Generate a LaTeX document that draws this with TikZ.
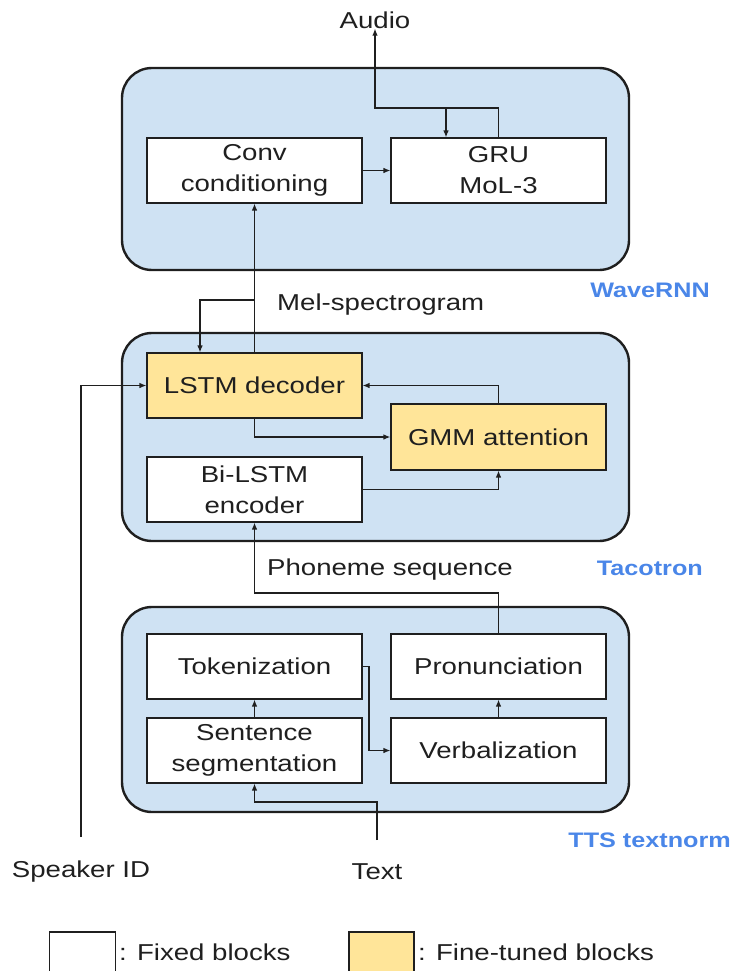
\documentclass[tikz,border=0pt]{standalone}
\usepackage{fontspec}
\setmainfont[FakeStretch=1.2]{Liberation Sans}
\usetikzlibrary{arrows.meta}
\definecolor{boxblue}{HTML}{CFE2F3}
\definecolor{boxyellow}{HTML}{FFE599}
\definecolor{labelblue}{HTML}{4A86E8}
\definecolor{ink}{HTML}{1F1F1F}
\tikzset{
  outerbox/.style={draw=ink, line width=2.4pt, fill=boxblue, rounded corners=30pt},
  blk/.style={draw=ink, line width=1.1pt, fill=white, minimum width=215pt, minimum height=65pt, inner sep=0pt, align=center, font=\fontsize{23}{31}\selectfont, text=ink},
  tuned/.style={blk, fill=boxyellow},
  arr/.style={draw=ink, line width=1.2pt, -{Latex[length=7pt,width=5.5pt]}},
  plain/.style={font=\fontsize{23}{29}\selectfont, text=ink, inner sep=0pt},
  grp/.style={font=\fontsize{21}{25}\selectfont\bfseries, text=labelblue, inner sep=0pt, anchor=east},
}
\begin{document}
\begin{tikzpicture}[x=1pt,y=-1pt]
\useasboundingbox (0,0) rectangle (739,971);
\clip (0,0) rectangle (739,971);
% group boxes
\draw[outerbox] (122,68) rectangle (629,270);
\draw[outerbox] (122,333) rectangle (629,541);
\draw[outerbox] (122,607) rectangle (629,812);
% WaveRNN
\node[blk] (conv) at (254.5,170.5) {Conv\\conditioning};
\node[blk] (gru) at (498.5,170.5) {GRU\\MoL-3};
\node[plain] (audio) at (375,20) {Audio};
\coordinate (j1) at (375,108);
\coordinate (j2) at (446,108);
\draw[arr] (gru.north) |- (j1) -- (audio.south);
\draw[arr] (j2) -- (j2 |- gru.north);
\draw[arr] (conv.east) -- (gru.west);
% Tacotron
\node[tuned] (lstm) at (254.5,385.5) {LSTM decoder};
\node[tuned, minimum height=66pt] (gmm) at (498.5,437) {GMM attention};
\node[blk] (bil) at (254.5,489.5) {Bi-LSTM\\encoder};
\draw[arr] (lstm.north) -- (conv.south);
\coordinate (j3) at (254.5,300);
\draw[arr] (j3) -| ([xshift=-54.5pt]lstm.north);
\node[plain, anchor=west] (mel) at (277,305) {Mel-spectrogram};
\draw[arr] (gmm.north) |- (lstm.east);
\draw[arr] (lstm.south) |- (gmm.west);
\draw[arr] (bil.east) -| (gmm.south);
% textnorm
\node[blk] (tok) at (254.5,666.5) {Tokenization};
\node[blk] (pron) at (498.5,666.5) {Pronunciation};
\node[blk] (sent) at (254.5,750.5) {Sentence\\segmentation};
\node[blk] (verb) at (498.5,750.5) {Verbalization};
\coordinate (j4) at (254.5,593);
\draw[arr] (pron.north) |- (j4) -- (bil.south);
\node[plain, anchor=west] (phon) at (267,570) {Phoneme sequence};
\draw[arr] (sent.north) -- (tok.south);
\draw[arr] (verb.north) -- (pron.south);
\coordinate (j6) at (369,666.5);
\draw[arr] (tok.east) -- (j6) |- (verb.west);
% inputs
\node[plain] (spk) at (81,872) {Speaker ID};
\node[plain] (text) at (377,872) {Text};
\coordinate (spkend) at (81,837);
\draw[arr] (spkend) |- (lstm.west);
\coordinate (textend) at (377,840);
\coordinate (j5) at (254.5,802);
\draw[arr] (textend) |- (j5) -- (sent.south);
% group labels
\node[grp] (lw) at (710,290) {WaveRNN};
\node[grp] (lt) at (703,568) {Tacotron};
\node[grp] (ln) at (731,840) {TTS textnorm};
% legend
\node[draw=ink, line width=1.1pt, fill=white, minimum width=66pt, minimum height=60pt, inner sep=0pt] (lf) at (82.5,962) {};
\node[plain, anchor=west] (lft) at (119,952) {: Fixed blocks};
\node[draw=ink, line width=1.1pt, fill=boxyellow, minimum width=65pt, minimum height=60pt, inner sep=0pt] (ly) at (381.5,962) {};
\node[plain, anchor=west] (lyt) at (418,952) {: Fine-tuned blocks};
\end{tikzpicture}
\end{document}
